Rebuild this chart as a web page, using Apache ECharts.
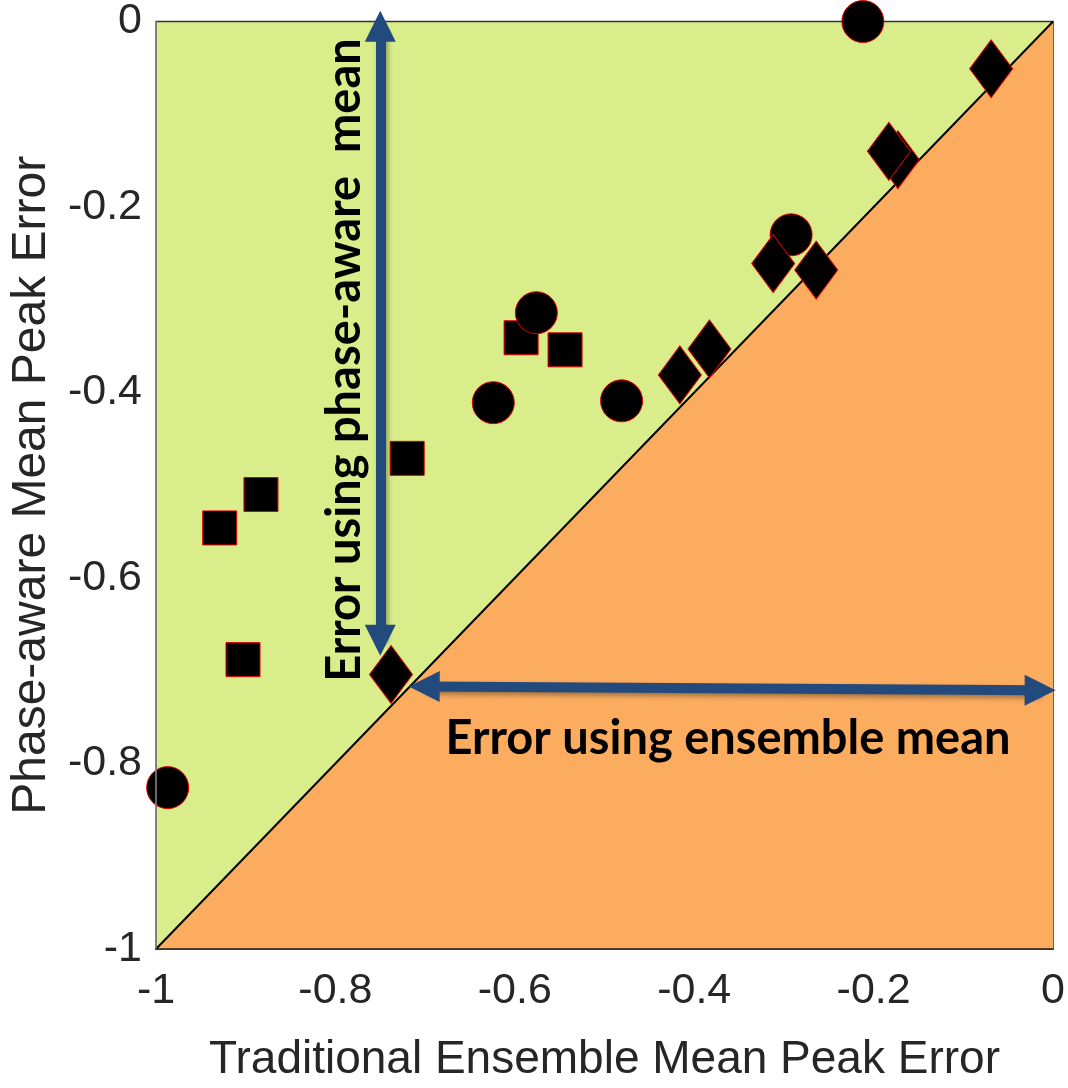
<!DOCTYPE html>
<html>
<head>
<meta charset="utf-8">
<script src="https://cdn.jsdelivr.net/npm/echarts@6/dist/echarts.min.js"></script>
<style>html,body{margin:0;padding:0;background:#fff}#c{width:1068px;height:1088px}</style>
</head>
<body>
<div id="c"></div>
<script>
// ---- data ----
var circlesX  = [-0.212, -0.292, -0.576, -0.624, -0.481, -0.987];
var circlesY  = [0.000, -0.230, -0.314, -0.411, -0.409, -0.826];
var squaresX  = [-0.593, -0.544, -0.720, -0.883, -0.929, -0.903];
var squaresY  = [-0.341, -0.354, -0.471, -0.510, -0.546, -0.688];
var diamondsX = [-0.069, -0.173, -0.183, -0.312, -0.264, -0.383, -0.416, -0.738];
var diamondsY = [-0.051, -0.149, -0.140, -0.261, -0.268, -0.353, -0.381, -0.704];
var diagonal  = [[-1, -1], [0, 0]];
var xTicks = [-1, -0.8, -0.6, -0.4, -0.2, 0];
var yTicks = [-1, -0.8, -0.6, -0.4, -0.2, 0];
var xName = 'Traditional Ensemble Mean Peak Error';
var yName = 'Phase-aware Mean Peak Error';
var vArrow = [[-0.75, -0.005], [-0.75, -0.667]];
var hArrow = [[-0.701, -0.717], [-0.0144, -0.721]];
var vText = 'Error using phase-aware  mean';
var hText = 'Error using ensemble mean';

function zip(xs, ys) { return xs.map(function (x, i) { return [x, ys[i]]; }); }
function fmt(v) { return String(+v.toFixed(1)); }

var chart = echarts.init(document.getElementById('c'), null, {renderer: 'canvas'});
var markerStyle = {color: '#000', borderColor: '#e00000', borderWidth: 1, opacity: 1};
var arrowLine = {color: '#234a7d', width: 10, type: 'solid', opacity: 1,
  shadowBlur: 5, shadowColor: 'rgba(0,0,0,0.35)', shadowOffsetX: 2, shadowOffsetY: 3};

chart.setOption({
  animation: false,
  backgroundColor: '#fff',
  grid: {left: 156, top: 18, width: 900, height: 940, show: true,
         backgroundColor: '#d9ed8b', borderColor: '#333', borderWidth: 1.5},
  xAxis: {
    type: 'value', min: xTicks[0], max: xTicks[xTicks.length - 1], interval: 0.2, z: 5,
    splitLine: {show: false}, axisTick: {show: false},
    axisLine: {show: true, onZero: false, lineStyle: {color: '#222', width: 1.5}},
    axisLabel: {fontFamily: 'Liberation Sans', fontSize: 43, color: '#262626', margin: 21, formatter: fmt},
    name: xName, nameLocation: 'middle', nameGap: 88,
    nameTextStyle: {fontFamily: 'Liberation Sans', fontSize: 46, color: '#262626'}
  },
  yAxis: {
    type: 'value', min: yTicks[0], max: yTicks[yTicks.length - 1], interval: 0.2, z: 5,
    splitLine: {show: false}, axisTick: {show: false},
    axisLine: {show: true, onZero: false, lineStyle: {color: '#8c8c8c', width: 1.5}},
    axisLabel: {fontFamily: 'Liberation Sans', fontSize: 43, color: '#262626', margin: 14, formatter: fmt},
    name: yName, nameLocation: 'middle', nameGap: 100,
    nameTextStyle: {fontFamily: 'Liberation Sans', fontSize: 48, color: '#262626'}
  },
  series: [
    {type: 'line', data: diagonal, symbol: 'none', z: 1,
     lineStyle: {color: '#000', width: 2},
     areaStyle: {color: '#fbac5f', opacity: 1, origin: 'start'}},
    {type: 'scatter', name: 'squares', symbol: 'rect', symbolSize: 34, z: 3,
     itemStyle: markerStyle, data: zip(squaresX, squaresY)},
    {type: 'scatter', name: 'circles', symbol: 'circle', symbolSize: 42, z: 3, clip: false,
     itemStyle: markerStyle, data: zip(circlesX, circlesY)},
    {type: 'scatter', name: 'diamonds', symbol: 'diamond', symbolSize: [43, 58], z: 3,
     itemStyle: markerStyle, data: zip(diamondsX, diamondsY)},
    {type: 'line', data: [], z: 4,
     markLine: {silent: true, animation: false, symbol: ['triangle', 'triangle'], symbolSize: [31, 31],
       label: {show: false}, lineStyle: arrowLine, emphasis: {disabled: true},
       data: [
         [{coord: vArrow[0]}, {coord: vArrow[1]}],
         [{coord: hArrow[0]}, {coord: hArrow[1]}]
       ]}}
  ],
  graphic: [
    {type: 'text', x: 345, y: 360, rotation: Math.PI / 2, z: 10,
     style: {text: vText, fontFamily: 'Lato', fontWeight: 'bold', fontSize: 47, fill: '#000',
             align: 'center', verticalAlign: 'middle'}},
    {type: 'text', x: 728, y: 739, z: 10,
     style: {text: hText, fontFamily: 'Lato', fontWeight: 'bold', fontSize: 47, fill: '#000',
             align: 'center', verticalAlign: 'middle'}}
  ]
});
</script>
</body>
</html>
